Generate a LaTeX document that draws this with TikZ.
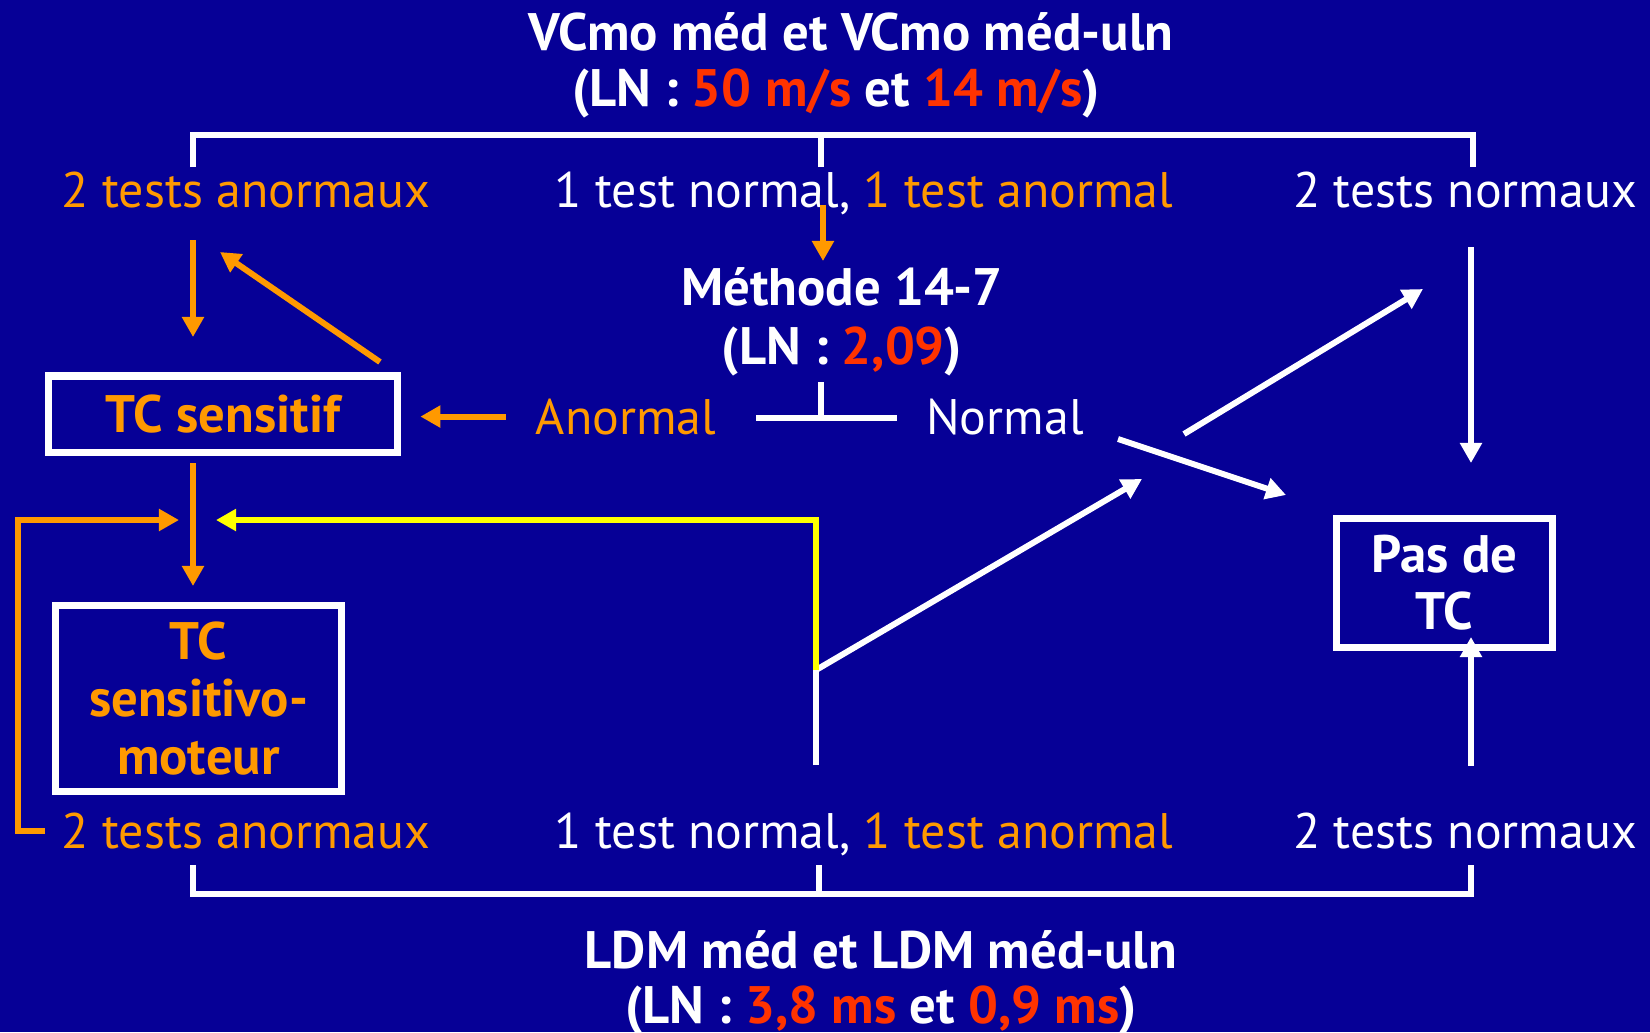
\documentclass[tikz,border=0pt]{standalone}
\usepackage{fontspec}
\setmainfont{PT Sans}
\usepackage{xcolor}
\usepackage{tikz}
\usetikzlibrary{arrows.meta}

\definecolor{bgblue}{RGB}{6,0,150}
\definecolor{orng}{RGB}{255,153,0}
\definecolor{lnred}{RGB}{255,51,0}
\definecolor{yell}{RGB}{255,255,0}
\newcommand{\lnval}[1]{\textcolor{lnred}{#1}}

\begin{document}
\begin{tikzpicture}[x=0.01cm,y=-0.01cm,>={Triangle[length=5.7pt,width=6pt]},
  txt/.style={inner sep=0pt,anchor=base,font=\fontsize{14.2}{17}\selectfont},
  btxt/.style={inner sep=0pt,anchor=base,text=white,font=\bfseries\fontsize{15}{17}\selectfont},
  box/.style={draw=white,line width=2pt,inner sep=0pt,align=center,
    font=\bfseries\fontsize{15}{16.4}\selectfont},
  wline/.style={white,line width=1.9pt},
  warr/.style={->,white,line width=1.7pt},
  oarr/.style={->,orng,line width=1.7pt},
  yarr/.style={->,yell,line width=1.7pt}]
\fill[bgblue] (0,0) rectangle (1650,1032);
\useasboundingbox (0,0) rectangle (1650,1032);

% titles
\node[btxt] (titleA) at (851,50) {VCmo méd et VCmo méd-uln};
\node[btxt] (titleB) at (836,106) {(LN : \lnval{50 m/s} et \lnval{14 m/s})};
\node[btxt] (ldmA) at (881,968) {LDM méd et LDM méd-uln};
\node[btxt] (ldmB) at (881,1023) {(LN : \lnval{3,8 ms} et \lnval{0,9 ms})};

% result rows
\node[txt,orng] (topAbn) at (246,207) {2 tests anormaux};
\node[txt,white] (topMix) at (864,207) {1 test normal, \textcolor{orng}{1 test anormal}};
\node[txt,white] (topNorm) at (1465,207) {2 tests normaux};
\node[txt,orng] (botAbn) at (246,848) {2 tests anormaux};
\node[txt,white] (botMix) at (864,848) {1 test normal, \textcolor{orng}{1 test anormal}};
\node[txt,white] (botNorm) at (1465,848) {2 tests normaux};

% 14-7 method
\node[btxt] (methA) at (842,305) {Méthode 14-7};
\node[btxt] (methB) at (842,364) {(LN : \lnval{2,09})};
\node[txt,orng] (anormal) at (626,434) {Anormal};
\node[txt,white] (normal) at (1005,434) {Normal};

% conclusions
\node[box,text=orng,minimum width=3.495cm,minimum height=0.76cm] (tcSens) at (223,414) {TC sensitif};
\node[box,text=orng,minimum width=2.85cm,minimum height=1.85cm] (tcSm) at (198.5,698.5) {TC\\sensitivo-\\moteur};
\node[box,text=white,minimum width=2.15cm,minimum height=1.28cm,font=\bfseries\fontsize{15}{16.2}\selectfont] (pasTC) at (1444.5,583) {Pas de\\TC};

% brackets
\coordinate (brTL) at (193,167);
\coordinate (brTM) at (821,167);
\coordinate (brTR) at (1473,167);
\draw[wline] (brTL) -- ++(0,-32) -| (brTR);
\draw[wline] (brTM) -- ++(0,-32);
\coordinate (brBL) at (193,865);
\coordinate (brBM) at (819,865);
\coordinate (brBR) at (1471,865);
\draw[wline] (brBL) -- ++(0,29) -| (brBR);
\draw[wline] (brBM) -- ++(0,29);

% split under the method
\coordinate (methFoot) at (821,382);
\draw[wline] (methFoot) -- ++(0,36);
\draw[wline] (756,418) -- (897,418);

% orange paths
\coordinate (abnOut) at (193,240);
\coordinate (abnIn) at (193,337);
\draw[oarr] (abnOut) -- (abnIn);
\coordinate (sensBack) at (380,362);
\coordinate (sensBackTip) at (220,252);
\draw[oarr] (sensBack) -- (sensBackTip);
\draw[oarr,shorten <=0.29cm,shorten >=0.19cm] (anormal.west) -- (anormal.west -| tcSens.east);
\coordinate (mixOut) at (823,205);
\coordinate (mixIn) at (823,261);
\draw[oarr] (mixOut) -- (mixIn);
\coordinate (sensOut) at (193,463);
\coordinate (smIn) at (193,586);
\draw[oarr] (sensOut) -- (smIn);
\coordinate (loopL) at (18,520);
\coordinate (loopEnd) at (179,520);
\draw[oarr] ([xshift=-0.16cm]botAbn.west) -| (loopL) -- (loopEnd);

% white paths
\coordinate (mixUp) at (816,765);
\coordinate (split) at (816,670);
\coordinate (crossA) at (1142,479);
\draw[wline] (mixUp) -- (split);
\draw[warr] (split) -- (crossA);
\coordinate (nrmOut) at (1118,439);
\coordinate (nrmTip) at (1286,495);
\draw[warr] (nrmOut) -- (nrmTip);
\coordinate (crossB) at (1184,434);
\coordinate (crossBTip) at (1423,289);
\draw[warr] (crossB) -- (crossBTip);
\coordinate (normOut) at (1471,247);
\coordinate (normIn) at (1471,463);
\draw[warr] (normOut) -- (normIn);
\coordinate (normUp) at (1471,766);
\coordinate (normUpTip) at (1471,637);
\draw[warr] (normUp) -- (normUpTip);

% back to the sensory branch
\coordinate (yEnd) at (216,520);
\draw[yarr] (split) |- (yEnd);
\end{tikzpicture}
\end{document}
